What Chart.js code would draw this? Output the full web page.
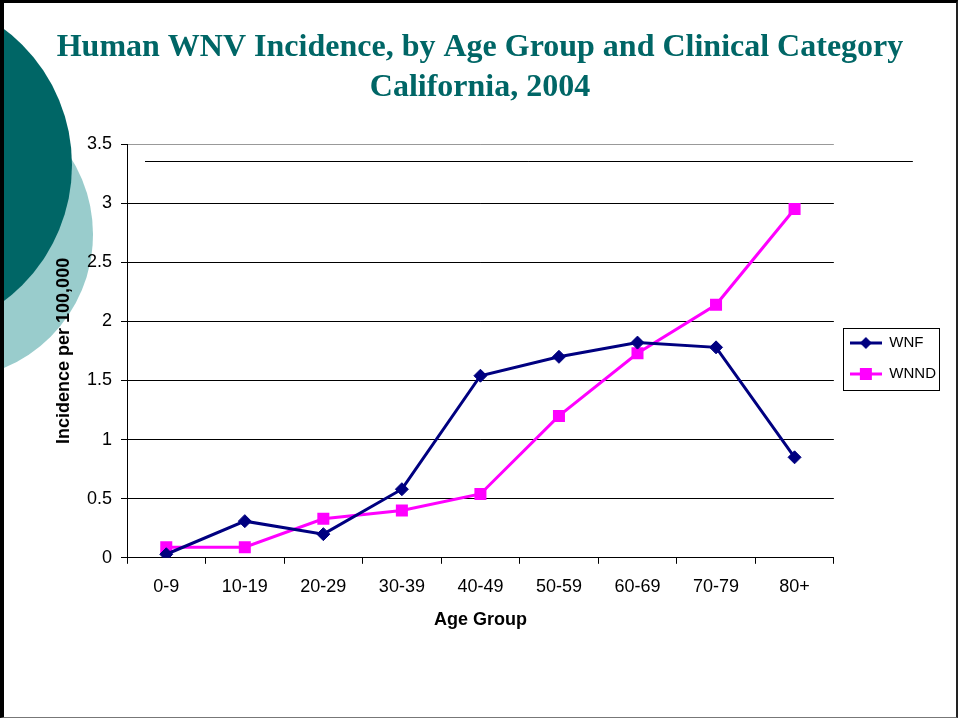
<!DOCTYPE html>
<html>
<head>
<meta charset="utf-8">
<script src="https://cdn.jsdelivr.net/npm/chart.js@4/dist/chart.umd.min.js"></script>
<style>
  html, body { margin: 0; padding: 0; background: #fff; }
  #slide { position: relative; width: 960px; height: 719px; overflow: hidden; }
  .circle { position: absolute; border-radius: 50%; }
  #light { left: -196px; top: 90px; width: 289px; height: 289px; background: #99cccc; }
  #dark { left: -268px; top: -5px; width: 340px; height: 340px; background: #006666; }
  #frame { position: absolute; left: 0; top: 0; width: 952px; height: 714px;
           border-top: 3px solid #000; border-left: 4px solid #000;
           border-right: 2px solid #222; border-bottom: 1px solid #777; }
  canvas { position: absolute; left: 0; top: 0; }
</style>
</head>
<body>
<div id="slide">
  <div class="circle" id="light"></div>
  <div class="circle" id="dark"></div>
  <canvas id="wnv-chart" width="960" height="719"></canvas>
  <div id="frame"></div>
</div>
<script>
// age groups and incidence per 100,000
var ageGroups = ["0-9", "10-19", "20-29", "30-39", "40-49", "50-59", "60-69", "70-79", "80+"];
var wnf  = [0.03, 0.31, 0.20, 0.58, 1.54, 1.70, 1.82, 1.78, 0.85];
var wnnd = [0.09, 0.09, 0.33, 0.40, 0.54, 1.20, 1.73, 2.14, 2.95];
var yTicks = [0, 0.5, 1, 1.5, 2, 2.5, 3, 3.5];
var strayLineValue = 3.36;

var navy = "#000080";
var pink = "#ff00ff";

// little legend picture: line with the marker in the middle
function legendIcon(color, shape) {
  var c = document.createElement("canvas");
  c.width = 32; c.height = 14;
  var ctx = c.getContext("2d");
  ctx.strokeStyle = color;
  ctx.lineWidth = 3;
  ctx.beginPath();
  ctx.moveTo(0, 7); ctx.lineTo(32, 7);
  ctx.stroke();
  ctx.fillStyle = color;
  if (shape == "diamond") {
    ctx.beginPath();
    ctx.moveTo(16, 1); ctx.lineTo(22, 7); ctx.lineTo(16, 13); ctx.lineTo(10, 7);
    ctx.closePath();
    ctx.fill();
  } else {
    ctx.fillRect(10, 1, 12, 12);
  }
  return c;
}

var legendBorder = {
  id: "legendBorder",
  afterDraw: function (chart) {
    var boxes = chart.legend.legendHitBoxes;
    if (!boxes || !boxes.length) return;
    var left = Math.min.apply(null, boxes.map(function (b) { return b.left; }));
    var right = Math.max.apply(null, boxes.map(function (b) { return b.left + b.width; }));
    var top = boxes[0].top;
    var bottom = boxes[boxes.length - 1].top + boxes[boxes.length - 1].height;
    var ctx = chart.ctx;
    ctx.save();
    ctx.strokeStyle = "#000";
    ctx.lineWidth = 1;
    ctx.strokeRect(Math.round(left - 7) + 0.5, Math.round(top - 8) + 0.5,
                   Math.round(right - left + 10), Math.round(bottom - top + 16));
    ctx.restore();
  }
};

// the odd horizontal rule that sits just under the top of the plot
var strayLine = {
  id: "strayLine",
  afterDraw: function (chart) {
    var y = Math.round(chart.scales.y.getPixelForValue(strayLineValue)) + 0.5;
    var ctx = chart.ctx;
    ctx.save();
    ctx.strokeStyle = "#000";
    ctx.lineWidth = 1;
    ctx.beginPath();
    ctx.moveTo(chart.chartArea.left + 18, y);
    ctx.lineTo(chart.chartArea.right + 79, y);
    ctx.stroke();
    ctx.restore();
  }
};

Chart.defaults.color = "#000";
Chart.defaults.font.family = "'Liberation Sans', Arial, sans-serif";

new Chart(document.getElementById("wnv-chart"), {
  type: "line",
  data: {
    labels: ageGroups,
    datasets: [
      {
        label: "WNF",
        data: wnf,
        borderColor: navy,
        backgroundColor: navy,
        borderWidth: 3,
        pointStyle: "rectRot",
        pointRadius: 6.5,
        pointHoverRadius: 6.5,
        pointBorderWidth: 1,
        tension: 0
      },
      {
        label: "WNND",
        data: wnnd,
        borderColor: pink,
        backgroundColor: pink,
        borderWidth: 3,
        pointStyle: "rect",
        pointRadius: 8.5,
        pointHoverRadius: 8.5,
        pointBorderWidth: 0,
        tension: 0
      }
    ]
  },
  options: {
    responsive: false,
    animation: false,
    layout: { padding: { left: 14, right: 14, bottom: 88 } },
    plugins: {
      title: {
        display: true,
        text: ["Human WNV Incidence, by Age Group and Clinical Category", "California, 2004"],
        color: "#006666",
        font: { family: "'Liberation Serif', 'Times New Roman', serif", size: 32, weight: "bold", lineHeight: 1.25 },
        padding: { top: 28, bottom: 36 }
      },
      legend: {
        position: "right",
        fullSize: false,
        title: { display: true, text: "", font: { size: 1 }, padding: { top: 14, bottom: 0 } },
        labels: {
          usePointStyle: true,
          pointStyleWidth: 32,
          padding: 16,
          font: { size: 15 },
          generateLabels: function (chart) {
            var items = Chart.defaults.plugins.legend.labels.generateLabels(chart);
            items[0].pointStyle = legendIcon(navy, "diamond");
            items[1].pointStyle = legendIcon(pink, "square");
            return items;
          }
        }
      },
      tooltip: { enabled: false }
    },
    scales: {
      x: {
        offset: true,
        grid: {
          offset: true,
          drawOnChartArea: true,
          color: function (ctx) { return ctx.index == ageGroups.length ? "#999" : "rgba(0,0,0,0)"; },
          tickColor: "#000",
          tickLength: 6
        },
        border: { color: "#000", width: 1 },
        ticks: { font: { size: 18 }, padding: 12, maxRotation: 0 },
        title: { display: true, text: "Age Group", font: { size: 18, weight: "bold" }, padding: 0 }
      },
      y: {
        min: 0,
        max: 3.5,
        afterBuildTicks: function (scale) { scale.ticks = yTicks.map(function (v) { return { value: v }; }); },
        afterFit: function (scale) { scale.width = 113; },
        grid: {
          color: function (ctx) { return ctx.tick && ctx.tick.value == 3.5 ? "#999" : "#000"; },
          tickColor: "#000",
          tickLength: 6
        },
        border: { color: "#000", width: 1 },
        ticks: { font: { size: 18 }, padding: 9, callback: function (v) { return String(v); } },
        title: { display: true, text: "Incidence per 100,000", font: { size: 18, weight: "bold" }, padding: { top: 39, bottom: 2 } }
      }
    }
  },
  plugins: [legendBorder, strayLine]
});
</script>
</body>
</html>
